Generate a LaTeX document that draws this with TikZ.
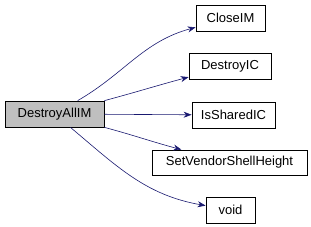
\documentclass[tikz,border=0pt]{standalone}
\usepackage{fontspec}
\setmainfont{Liberation Sans}
\usetikzlibrary{arrows.meta}
\definecolor{edgeblue}{RGB}{25,25,112}
\definecolor{rootgray}{RGB}{191,191,191}
\begin{document}
\begin{tikzpicture}[x=1pt,y=1pt,every node/.style={font=\fontsize{13}{15}\selectfont},
  fnbox/.style={draw,line width=0.8pt,inner sep=0pt},
  call/.style={-{Stealth[length=8pt,width=6pt]},edgeblue,line width=0.6pt}]
\useasboundingbox (0,0) rectangle (311,-226);
% caller
\node[fnbox,fill=rootgray,minimum width=99,minimum height=26] (destroyall) at (54.5,-114) {DestroyAllIM};
% callees
\node[fnbox,minimum width=69,minimum height=26] (closeim) at (230.5,-18) {CloseIM};
\node[fnbox,minimum width=82,minimum height=26] (destroyic) at (230,-66) {DestroyIC};
\node[fnbox,minimum width=83,minimum height=26] (issharedic) at (233.5,-115) {IsSharedIC};
\node[fnbox,minimum width=155,minimum height=25] (setvendor) at (229.5,-162.5) {SetVendorShellHeight};
\node[fnbox,minimum width=49,minimum height=26] (void) at (230.5,-210) {void};
% call edges
\draw[call] (destroyall) to[out=30,in=195] (closeim);
\draw[call] (destroyall) to[out=15,in=195] (destroyic);
\draw[call] (destroyall) -- (issharedic);
\draw[call] (destroyall) to[out=-15,in=165] (setvendor);
\draw[call] (destroyall) to[out=-40,in=170] (void);
\end{tikzpicture}
\end{document}
